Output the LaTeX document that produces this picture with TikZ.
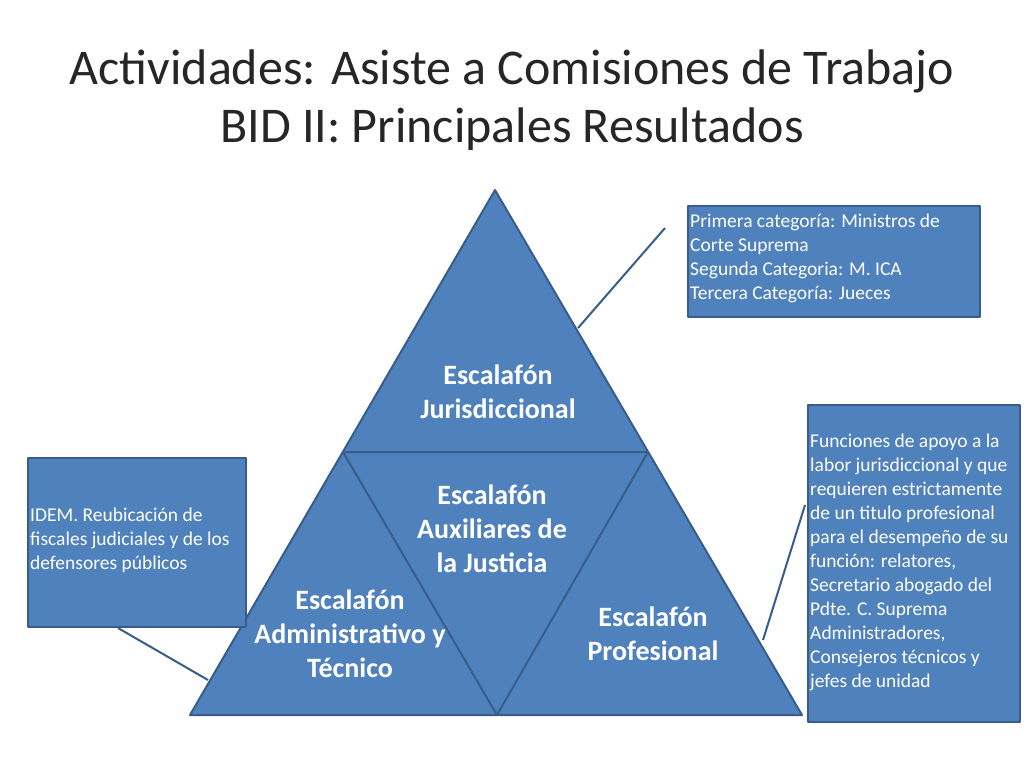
\documentclass[tikz,border=0pt]{standalone}
\usepackage{fontspec}
\setmainfont{Carlito}
\definecolor{tri}{HTML}{4F81BD}
\definecolor{edge}{HTML}{385D8A}
\pgfdeclareradialshading{vig}{\pgfpoint{0bp}{0bp}}{color(0bp)=(white); color(30bp)=(white); color(50bp)=(black!60)}
\begin{document}
\begin{tikzpicture}[x=1pt,y=-1pt,
  bluefill/.style={fill=tri,draw=edge,line width=2pt,line join=round},
  lbl/.style={text=white,font=\fontsize{28}{34}\selectfont\bfseries,align=center},
  boxtxt/.style={text=white,font=\fontsize{19.5}{24}\selectfont,align=left,anchor=north west,inner sep=0pt},
  conn/.style={draw=edge,line width=2pt}]
\useasboundingbox (0,0) rectangle (1024,768);
\begin{scope}
\clip (0,0) rectangle (1024,768);
\shade[shading=vig] (512,384) circle (660);
\end{scope}
\node[font=\fontsize{50}{58}\selectfont,text=black!85,align=center] (title) at (512,100) {Actividades: Asiste a Comisiones de Trabajo\\BID II: Principales Resultados};
% connectors
\coordinate (c1a) at (665,228); \coordinate (c1b) at (578,328);
\coordinate (c2a) at (805,505); \coordinate (c2b) at (763,640);
\coordinate (c3a) at (118,628); \coordinate (c3b) at (208,680);
\draw[conn] (c1a) -- (c1b);
\draw[conn] (c2a) -- (c2b);
\draw[conn] (c3a) -- (c3b);
% triangle
\draw[bluefill] (495,190) -- (802,715) -- (190,715) -- cycle;
\draw[bluefill] (343,452) -- (648,452) -- (497,715) -- cycle;
\node[lbl] (jur) at (498,392) {Escalafón\\Jurisdiccional};
\node[lbl] (aux) at (492,529) {Escalafón\\Auxiliares de\\la Justicia};
\node[lbl] (adm) at (350,634) {Escalafón\\Administrativo y\\Técnico};
\node[lbl] (pro) at (653,634) {Escalafón\\Profesional};
% boxes
\draw[bluefill] (688,206) rectangle (980,317);
\node[boxtxt] (b1) at (690,214) {Primera categoría: Ministros de\\Corte Suprema\\Segunda Categoria: M. ICA\\Tercera Categoría: Jueces};
\draw[bluefill] (808,405) rectangle (1020,722);
\node[boxtxt] (b2) at (810,434) {Funciones de apoyo a la\\labor jurisdiccional y que\\requieren estrictamente\\de un titulo profesional\\para el desempeño de su\\función: relatores,\\Secretario abogado del\\Pdte. C. Suprema\\Administradores,\\Consejeros técnicos y\\jefes de unidad};
\draw[bluefill] (28,458) rectangle (246,627);
\node[boxtxt] (b3) at (30,508) {IDEM. Reubicación de\\fiscales judiciales y de los\\defensores públicos};
\end{tikzpicture}
\end{document}
